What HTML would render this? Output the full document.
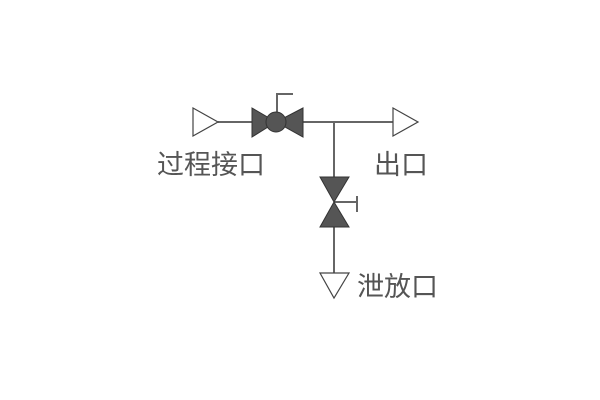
<!DOCTYPE html>
<html><head><meta charset="utf-8"><style>
html,body{margin:0;padding:0;background:#fff;width:600px;height:400px;overflow:hidden}
text{font-family:"Liberation Sans","Noto Sans CJK SC",sans-serif;fill:#555;font-size:27px}
</style></head><body>
<svg width="600" height="400" viewBox="0 0 600 400">
<g stroke="#666" stroke-width="2" fill="none">
<line x1="218" y1="122" x2="252" y2="122"/>
<line x1="303" y1="122" x2="393" y2="122"/>
<line x1="334" y1="122" x2="334" y2="177"/>
<line x1="334" y1="227" x2="334" y2="273"/>
<polyline points="277,112 277,94 293,94"/>
<line x1="334" y1="202" x2="357" y2="202"/>
<line x1="357" y1="196" x2="357" y2="212"/>
</g>
<g stroke="#444" stroke-width="1.2" fill="#fff">
<polygon points="193,108 218,122 193,136"/>
<polygon points="393,108 418,122 393,136"/>
<polygon points="320,273 349,273 334,298"/>
</g>
<g stroke="#333" stroke-width="1" fill="#555">
<polygon points="252,108 276,122 252,137"/>
<polygon points="303,108 276,122 303,137"/>
<circle cx="276" cy="122" r="10"/>
<polygon points="320,177 349,177 334,202"/>
<polygon points="320,227 349,227 334,202"/>
</g>
<text x="157" y="174">过程接口</text>
<text x="374" y="174">出口</text>
<text x="357" y="296">泄放口</text>
</svg>
</body></html>
